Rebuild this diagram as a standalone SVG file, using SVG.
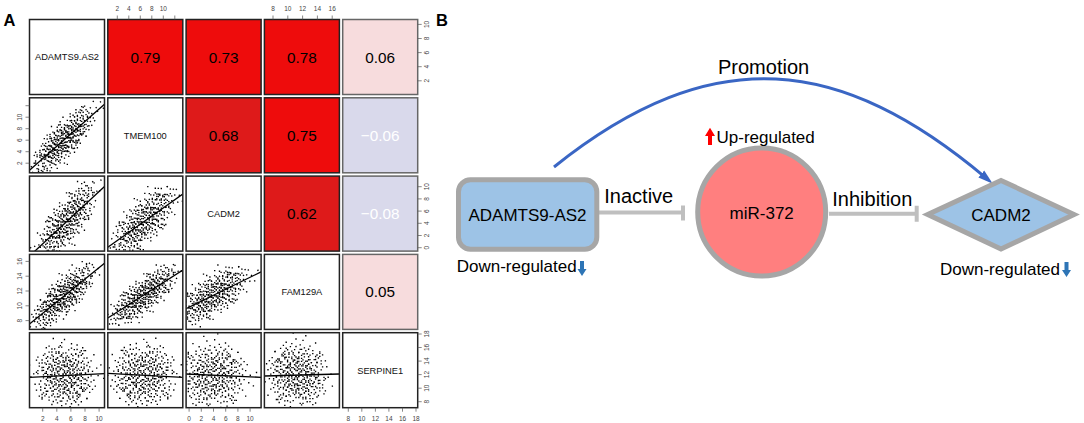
<svg xmlns="http://www.w3.org/2000/svg" xmlns:xlink="http://www.w3.org/1999/xlink" width="1084" height="423" viewBox="0 0 1084 423">
<style>
text{font-family:"Liberation Sans",Arial,Helvetica,sans-serif}
.cell{stroke:#222;stroke-width:1.5}
.pale{stroke:#666;stroke-width:1.5}
.lab{font-size:9.3px;text-anchor:middle;fill:#111}
.num{font-size:15.3px;text-anchor:middle;fill:#000}
.wnum{font-size:15.3px;text-anchor:middle;fill:#fff}
.ax{font-size:6.5px;fill:#444;text-anchor:middle}
.tick{stroke:#555;stroke-width:0.7;fill:none}
.dots{stroke:#000;stroke-width:1.35;stroke-linecap:square;vector-effect:non-scaling-stroke;fill:none}
.reg{stroke:#000;stroke-width:1.3}
.panel{font-size:16.5px;font-weight:bold;fill:#000}
.node{fill:#9DC3E6;stroke:#A6A6A6;stroke-width:5}
.ntxt{font-size:17px;fill:#000}
.etxt{font-size:20px;fill:#000}
.inh{stroke:#BFBFBF;stroke-width:4;fill:none}
.blue{fill:#2E75B6}
</style>
<defs>
<path id="cloud" class="dots" d="M3 -5h.01M-7 2h.01M12 8h.01M-2 -14h.01M6 1h.01M-11 -6h.01M0 9h.01M17 -3h.01M-4 4h.01M8 -10h.01M-15 11h.01M2 -2h.01M-6 -9h.01M10 15h.01M-1 6h.01M21 4h.01M-9 -1h.01M5 -18h.01M-3 13h.01M14 -7h.01M-19 -4h.01M7 5h.01M-5 -3h.01M1 19h.01M11 -1h.01M-8 7h.01M4 -7h.01M-13 -12h.01M9 11h.01M-2 0h.01M16 9h.01M-10 3h.01M3 -12h.01M-6 16h.01M13 2h.01M-17 7h.01M0 -6h.01M6 12h.01M-4 -16h.01M19 -9h.01M-12 -1h.01M2 4h.01M-7 -7h.01M10 -4h.01M-1 -10h.01M24 1h.01M-14 5h.01M5 8h.01M-3 -4h.01M8 18h.01M-22 -2h.01M1 -1h.01M-9 10h.01M12 -13h.01M-5 8h.01M7 -2h.01M-16 -9h.01M15 6h.01M-2 -19h.01M4 2h.01M-11 14h.01M9 -6h.01M-6 1h.01M18 12h.01M0 3h.01M-8 -5h.01M11 4h.01M-20 9h.01M3 10h.01M-4 -8h.01M14 -16h.01M-13 2h.01M6 -4h.01M-1 12h.01M20 -2h.01M-9 -14h.01M2 7h.01M-15 -6h.01M8 0h.01M-5 -12h.01M13 10h.01M-3 2h.01M26 -6h.01M-10 8h.01M5 -9h.01M-7 -2h.01M9 3h.01M-18 13h.01M1 -15h.01M12 -5h.01M-2 17h.01M7 9h.01M-12 -10h.01M4 -1h.01M-6 5h.01M16 -11h.01M-24 0h.01M10 7h.01M-1 -7h.01M6 14h.01M-14 -15h.01M3 1h.01M-8 12h.01M15 -1h.01M-4 -1h.01M22 8h.01M-10 -8h.01M0 -3h.01M8 -14h.01M-17 3h.01M11 13h.01M-3 9h.01M5 4h.01M-9 -18h.01M17 2h.01M-6 -11h.01M2 10h.01M-11 6h.01M13 -9h.01M-1 1h.01M7 -8h.01M-16 15h.01M4 16h.01M-5 -6h.01M19 5h.01M-13 -3h.01M9 -17h.01M-2 4h.01M12 1h.01M-8 -11h.01M1 8h.01M-20 -11h.01M6 -6h.01M-3 -20h.01M14 11h.01M-7 9h.01M10 -8h.01M-12 1h.01M3 -3h.01M-5 14h.01M23 -4h.01M-9 4h.01M0 -9h.01M16 16h.01M-15 -1h.01M5 6h.01M-2 -13h.01M8 5h.01M-11 -16h.01M2 -6h.01M-6 -4h.01M12 9h.01M-18 -7h.01M7 2h.01M-1 15h.01M10 -12h.01M-4 7h.01M18 -5h.01M-10 -4h.01M4 12h.01M-7 0h.01M1 -11h.01M15 3h.01M-13 10h.01M6 -13h.01M-3 -9h.01M9 14h.01M-21 5h.01M3 5h.01M-8 -13h.01M11 -3h.01M-5 3h.01M20 10h.01M-2 -5h.01M13 -14h.01M-16 12h.01M5 0h.01M-9 -7h.01M7 17h.01M-12 -5h.01M0 11h.01M14 -4h.01M-4 -15h.01M28 3h.01M-7 6h.01M2 -8h.01M-19 -13h.01M10 2h.01M-1 -1h.01M6 7h.01M-14 8h.01M17 -8h.01M-6 -16h.01M3 14h.01M-10 1h.01M9 -1h.01M-3 6h.01M21 -13h.01M-25 -8h.01M4 -10h.01"/>
<marker id="arr" viewBox="0 -5 16 10" markerWidth="16" markerHeight="10" refX="6" refY="0" orient="auto" markerUnits="userSpaceOnUse">
<path d="M0,-4.5 L15,0 L0,4.5 Z" fill="#3A66C4"/>
</marker>
</defs>
<rect width="1084" height="423" fill="#fff"/>

<text class="panel" x="3.5" y="26">A</text>
<text class="panel" x="436" y="26">B</text>

<!-- Panel A: diagonal label cells -->
<g id="diag-ADAMTS9AS2"><rect class="cell" x="29.5" y="19.5" width="75" height="75" fill="#fff"/><text class="lab" x="67" y="60.4">ADAMTS9.AS2</text></g>
<g id="diag-TMEM100"><rect class="cell" x="107.8" y="97.8" width="75" height="75" fill="#fff"/><text class="lab" x="145.3" y="138.7">TMEM100</text></g>
<g id="diag-CADM2"><rect class="cell" x="186.1" y="176.1" width="75" height="75" fill="#fff"/><text class="lab" x="223.6" y="217">CADM2</text></g>
<g id="diag-FAM129A"><rect class="cell" x="264.4" y="254.4" width="75" height="75" fill="#fff"/><text class="lab" x="301.9" y="295.3">FAM129A</text></g>
<g id="diag-SERPINE1"><rect class="cell" x="342.7" y="332.7" width="75" height="75" fill="#fff"/><text class="lab" x="380.2" y="373.6">SERPINE1</text></g>

<!-- Panel A: correlation cells -->
<g id="cor-1-2"><rect class="cell" x="107.8" y="19.5" width="75" height="75" fill="#EE0C0C"/><text class="num" x="145.3" y="62.5">0.79</text></g>
<g id="cor-1-3"><rect class="cell" x="186.1" y="19.5" width="75" height="75" fill="#EE0C0C"/><text class="num" x="223.6" y="62.5">0.73</text></g>
<g id="cor-1-4"><rect class="cell" x="264.4" y="19.5" width="75" height="75" fill="#EE0C0C"/><text class="num" x="301.9" y="62.5">0.78</text></g>
<g id="cor-1-5"><rect class="pale" x="342.7" y="19.5" width="75" height="75" fill="#F7DCDD"/><text class="num" x="380.2" y="62.5">0.06</text></g>
<g id="cor-2-3"><rect class="cell" x="186.1" y="97.8" width="75" height="75" fill="#DE1A1A"/><text class="num" x="223.6" y="140.8">0.68</text></g>
<g id="cor-2-4"><rect class="cell" x="264.4" y="97.8" width="75" height="75" fill="#EE0C0C"/><text class="num" x="301.9" y="140.8">0.75</text></g>
<g id="cor-2-5"><rect class="pale" x="342.7" y="97.8" width="75" height="75" fill="#D9D9EB"/><text class="wnum" x="380.2" y="140.8">−0.06</text></g>
<g id="cor-3-4"><rect class="cell" x="264.4" y="176.1" width="75" height="75" fill="#DE1A1A"/><text class="num" x="301.9" y="219.1">0.62</text></g>
<g id="cor-3-5"><rect class="pale" x="342.7" y="176.1" width="75" height="75" fill="#D9D9EB"/><text class="wnum" x="380.2" y="219.1">−0.08</text></g>
<g id="cor-4-5"><rect class="pale" x="342.7" y="254.4" width="75" height="75" fill="#F7DCDD"/><text class="num" x="380.2" y="297.4">0.05</text></g>

<!-- Panel A: scatter cells -->
<g id="sc-2-1">
<svg x="29.5" y="97.8" width="75" height="75"><use href="#cloud" transform="matrix(1.44,-1.27,0,0.98,33.5,43)"/><use href="#cloud" transform="matrix(0,0.98,1.44,-1.27,33.5,43)"/><line class="reg" x1="0" y1="72.5" x2="75" y2="6.5"/></svg>
<rect class="cell" x="29.5" y="97.8" width="75" height="75" fill="none"/></g>
<g id="sc-3-1">
<svg x="29.5" y="176.1" width="75" height="75"><use href="#cloud" transform="matrix(-1.38,1.28,0,1.2,37,45.6)"/><use href="#cloud" transform="matrix(0,1.2,-1.38,1.28,37,45.6)"/><line class="reg" x1="0" y1="80" x2="75" y2="10.3"/></svg>
<rect class="cell" x="29.5" y="176.1" width="75" height="75" fill="none"/></g>
<g id="sc-3-2">
<svg x="107.8" y="176.1" width="75" height="75"><use href="#cloud" transform="matrix(1.5,-1.07,0,-1.15,35.5,46)"/><use href="#cloud" transform="matrix(0,-1.15,1.5,-1.07,35.5,46)"/><line class="reg" x1="0" y1="71.2" x2="75" y2="18"/></svg>
<rect class="cell" x="107.8" y="176.1" width="75" height="75" fill="none"/></g>
<g id="sc-4-1">
<svg x="29.5" y="254.4" width="75" height="75"><use href="#cloud" transform="matrix(-1.44,1.16,0,-0.94,34,42)"/><use href="#cloud" transform="matrix(0,-0.94,-1.44,1.16,34,42)"/><line class="reg" x1="0" y1="69.5" x2="75" y2="8.8"/></svg>
<rect class="cell" x="29.5" y="254.4" width="75" height="75" fill="none"/></g>
<g id="sc-4-2">
<svg x="107.8" y="254.4" width="75" height="75"><use href="#cloud" transform="matrix(-1.56,1.0,0,0.88,36,40.6)"/><use href="#cloud" transform="matrix(0,0.88,-1.56,1.0,36,40.6)"/><line class="reg" x1="0" y1="63.6" x2="75" y2="15.6"/></svg>
<rect class="cell" x="107.8" y="254.4" width="75" height="75" fill="none"/></g>
<g id="sc-4-3">
<svg x="186.1" y="254.4" width="75" height="75"><use href="#cloud" transform="matrix(1.6,-0.79,0,-1.0,27,41)"/><use href="#cloud" transform="matrix(0,-1.0,1.6,-0.79,27,41)"/><line class="reg" x1="0" y1="54.2" x2="75" y2="17.5"/></svg>
<rect class="cell" x="186.1" y="254.4" width="75" height="75" fill="none"/></g>
<g id="sc-5-1">
<svg x="29.5" y="332.7" width="75" height="75"><use href="#cloud" transform="matrix(1.4,-0.06,0,1.5,35,42.8)"/><use href="#cloud" transform="matrix(0,1.5,1.4,-0.06,35,42.8)"/><line class="reg" x1="0" y1="44.6" x2="75" y2="41"/></svg>
<rect class="cell" x="29.5" y="332.7" width="75" height="75" fill="none"/></g>
<g id="sc-5-2">
<svg x="107.8" y="332.7" width="75" height="75"><use href="#cloud" transform="matrix(-1.5,-0.06,0,1.5,36,42.6)"/><use href="#cloud" transform="matrix(0,1.5,-1.5,-0.06,36,42.6)"/><line class="reg" x1="0" y1="40.6" x2="75" y2="44.6"/></svg>
<rect class="cell" x="107.8" y="332.7" width="75" height="75" fill="none"/></g>
<g id="sc-5-3">
<svg x="186.1" y="332.7" width="75" height="75"><use href="#cloud" transform="matrix(1.55,0.045,0,-1.5,27,43)"/><use href="#cloud" transform="matrix(0,-1.5,1.55,0.045,27,43)"/><line class="reg" x1="0" y1="41.3" x2="75" y2="44.6"/></svg>
<rect class="cell" x="186.1" y="332.7" width="75" height="75" fill="none"/></g>
<g id="sc-5-4">
<svg x="264.4" y="332.7" width="75" height="75"><use href="#cloud" transform="matrix(-1.4,0.035,0,-1.5,33,42.3)"/><use href="#cloud" transform="matrix(0,-1.5,-1.4,0.035,33,42.3)"/><line class="reg" x1="0" y1="43.3" x2="75" y2="41.3"/></svg>
<rect class="cell" x="264.4" y="332.7" width="75" height="75" fill="none"/></g>

<!-- Panel A: axes -->
<g id="axes">
<path class="tick" d="M117.3 15.5V19.5M128.8 15.5V19.5M140.3 15.5V19.5M151.8 15.5V19.5M163.3 15.5V19.5M174.8 15.5V19.5M273 15.5V19.5M287.8 15.5V19.5M302.6 15.5V19.5M317.4 15.5V19.5M332.2 15.5V19.5M25.5 163.2H29.5M25.5 151.7H29.5M25.5 140.2H29.5M25.5 128.7H29.5M25.5 117.2H29.5M25.5 105.7H29.5M25.5 320.6H29.5M25.5 305.8H29.5M25.5 291H29.5M25.5 276.2H29.5M25.5 261.4H29.5M417.7 80.8H421.7M417.7 66.7H421.7M417.7 52.6H421.7M417.7 38.5H421.7M417.7 24.4H421.7M417.7 247.7H421.7M417.7 235.5H421.7M417.7 223.3H421.7M417.7 211.1H421.7M417.7 198.9H421.7M417.7 186.7H421.7M417.7 401.7H421.7M417.7 388.2H421.7M417.7 374.6H421.7M417.7 361.1H421.7M417.7 347.5H421.7M417.7 334H421.7M42.7 407.7V411.7M56.8 407.7V411.7M70.9 407.7V411.7M85 407.7V411.7M99.1 407.7V411.7M189.1 407.7V411.7M201.3 407.7V411.7M213.5 407.7V411.7M225.7 407.7V411.7M237.9 407.7V411.7M250.1 407.7V411.7M348.3 407.7V411.7M361.8 407.7V411.7M375.4 407.7V411.7M388.9 407.7V411.7M402.5 407.7V411.7M416 407.7V411.7"/>
<text class="ax" x="117.3" y="11.3">2</text><text class="ax" x="128.8" y="11.3">4</text><text class="ax" x="140.3" y="11.3">6</text><text class="ax" x="151.8" y="11.3">8</text><text class="ax" x="163.3" y="11.3">10</text>
<text class="ax" x="273" y="11.3">8</text><text class="ax" x="287.8" y="11.3">10</text><text class="ax" x="302.6" y="11.3">12</text><text class="ax" x="317.4" y="11.3">14</text><text class="ax" x="332.2" y="11.3">16</text>
<text class="ax" x="42.7" y="421.3">2</text><text class="ax" x="56.8" y="421.3">4</text><text class="ax" x="70.9" y="421.3">6</text><text class="ax" x="85" y="421.3">8</text><text class="ax" x="99.1" y="421.3">10</text>
<text class="ax" x="189.1" y="421.3">0</text><text class="ax" x="201.3" y="421.3">2</text><text class="ax" x="213.5" y="421.3">4</text><text class="ax" x="225.7" y="421.3">6</text><text class="ax" x="237.9" y="421.3">8</text><text class="ax" x="250.1" y="421.3">10</text>
<text class="ax" x="348.3" y="421.3">8</text><text class="ax" x="361.8" y="421.3">10</text><text class="ax" x="375.4" y="421.3">12</text><text class="ax" x="388.9" y="421.3">14</text><text class="ax" x="402.5" y="421.3">16</text><text class="ax" x="416" y="421.3">18</text>
<text class="ax" transform="translate(22.3,163.2) rotate(-90)">2</text><text class="ax" transform="translate(22.3,151.7) rotate(-90)">4</text><text class="ax" transform="translate(22.3,140.2) rotate(-90)">6</text><text class="ax" transform="translate(22.3,128.7) rotate(-90)">8</text><text class="ax" transform="translate(22.3,117.2) rotate(-90)">10</text>
<text class="ax" transform="translate(22.3,320.6) rotate(-90)">8</text><text class="ax" transform="translate(22.3,305.8) rotate(-90)">10</text><text class="ax" transform="translate(22.3,291) rotate(-90)">12</text><text class="ax" transform="translate(22.3,276.2) rotate(-90)">14</text><text class="ax" transform="translate(22.3,261.4) rotate(-90)">16</text>
<text class="ax" transform="translate(429,80.8) rotate(-90)">2</text><text class="ax" transform="translate(429,66.7) rotate(-90)">4</text><text class="ax" transform="translate(429,52.6) rotate(-90)">6</text><text class="ax" transform="translate(429,38.5) rotate(-90)">8</text><text class="ax" transform="translate(429,24.4) rotate(-90)">10</text>
<text class="ax" transform="translate(429,247.7) rotate(-90)">0</text><text class="ax" transform="translate(429,235.5) rotate(-90)">2</text><text class="ax" transform="translate(429,223.3) rotate(-90)">4</text><text class="ax" transform="translate(429,211.1) rotate(-90)">6</text><text class="ax" transform="translate(429,198.9) rotate(-90)">8</text><text class="ax" transform="translate(429,186.7) rotate(-90)">10</text>
<text class="ax" transform="translate(429,401.7) rotate(-90)">8</text><text class="ax" transform="translate(429,388.2) rotate(-90)">10</text><text class="ax" transform="translate(429,374.6) rotate(-90)">12</text><text class="ax" transform="translate(429,361.1) rotate(-90)">14</text><text class="ax" transform="translate(429,347.5) rotate(-90)">16</text><text class="ax" transform="translate(429,334) rotate(-90)">18</text>
</g>

<!-- Panel B: connectors -->
<g id="connectors">
<path d="M554,167 C714,39 842,57 985.9,177.9" fill="none" stroke="#3A66C4" stroke-width="3" marker-end="url(#arr)"/>
<text class="etxt" x="718" y="74">Promotion</text>
<path class="inh" d="M599,212.5 H683 M683,205.5 V220.5"/>
<text class="etxt" x="604.3" y="202.7">Inactive</text>
<path class="inh" d="M829,213.8 H916.7 M916.7,205.8 V221.8"/>
<text class="etxt" x="832.3" y="205.7">Inhibition</text>
</g>

<!-- Panel B: nodes -->
<g id="node-ADAMTS9-AS2">
<rect class="node" x="458.5" y="179.8" width="138.3" height="69.4" rx="12" ry="12"/>
<text class="ntxt" x="527.5" y="221" text-anchor="middle">ADAMTS9-AS2</text>
<text class="ntxt" x="456.7" y="271.7">Down-regulated</text>
<path class="blue" d="M580,261 h4 v8 h2.5 l-4.5,7 l-4.5,-7 h2.5 z"/>
</g>
<g id="node-miR-372">
<circle cx="761.7" cy="212" r="64" fill="#FF7F7F" stroke="#A6A6A6" stroke-width="5"/>
<text class="ntxt" x="761.7" y="219" text-anchor="middle">miR-372</text>
<path d="M708,145 v-9 h-3 l5,-8.3 l5,8.3 h-3 v9 z" fill="#FF0000"/>
<text class="ntxt" x="716.5" y="143.3">Up-regulated</text>
</g>
<g id="node-CADM2">
<polygon class="node" points="927.7,214.5 1001,180.4 1074,214.5 1001,249" stroke-linejoin="miter"/>
<text class="ntxt" x="1001" y="221" text-anchor="middle">CADM2</text>
<text class="ntxt" x="940" y="274.5">Down-regulated</text>
<path class="blue" d="M1064.5,262 h4 v8 h2.5 l-4.5,7 l-4.5,-7 h2.5 z"/>
</g>
</svg>
